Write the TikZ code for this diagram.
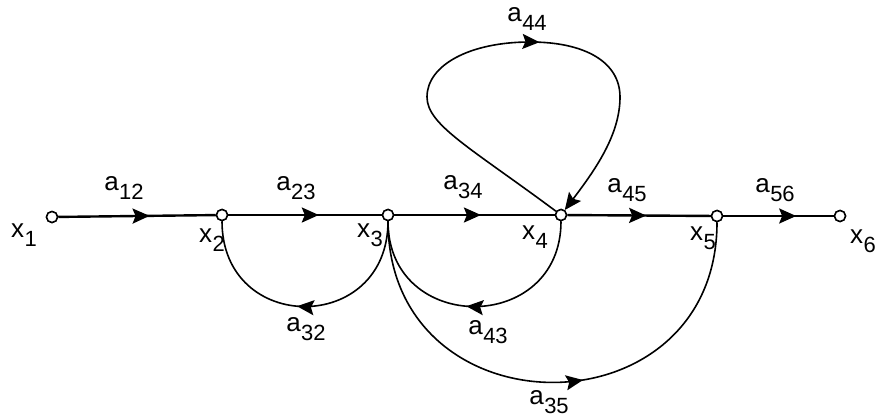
\documentclass[tikz,border=0pt]{standalone}
\usepackage{fontspec}
\setmainfont{Liberation Sans}
\usetikzlibrary{arrows.meta,decorations.markings}
\newcommand\lab[2]{#1\hspace{0.5pt}\raisebox{-9pt}{\fontsize{22}{22}\selectfont #2}}
\begin{document}
\begin{tikzpicture}[x=1pt,y=-1pt,
  vert/.style={circle,draw,fill=white,line width=1.5pt,minimum size=11pt,inner sep=0pt},
  txt/.style={inner sep=0pt,font=\fontsize{26}{26}\selectfont},
  edge/.style={line width=2.4pt},
  curv/.style={line width=1.6pt},
  arr/.style={decoration={markings,mark=at position #1 with {\arrow{Stealth[length=17pt,width=15pt,inset=3pt]}}},postaction={decorate}},
]
\useasboundingbox (0,0) rectangle (886,420);
% vertices
\node[vert] (x1) at (52,217) {};
\node[vert] (x2) at (222,215) {};
\node[vert] (x3) at (388,215) {};
\node[vert] (x4) at (561,215) {};
\node[vert] (x5) at (717,216) {};
\node[vert] (x6) at (840,216) {};
% straight branches
\draw[edge,arr=0.58] (x1) -- (x2);
\draw[edge,arr=0.59] (x2) -- (x3);
\draw[edge,arr=0.54] (x3) -- (x4);
\draw[edge,arr=0.55] (x4) -- (x5);
\draw[edge,arr=0.66] (x5) -- (x6);
% curved branches
\draw[curv,arr=0.53] (x3) .. controls (388,335) and (222,335) .. (x2);
\draw[curv,arr=0.53] (x4) .. controls (561,335) and (388,335) .. (x3);
\draw[curv,arr=0.56] (x3) .. controls (388,436) and (717,436) .. (x5);
% self loop
\draw[curv,arr=0.57,-{Stealth[length=17pt,width=15pt,inset=3pt]}] (x4) .. controls (471,148) and (427,125) .. (427,97)
  .. controls (427,65) and (470,42) .. (530,42)
  .. controls (585,42) and (620,62) .. (620,97)
  .. controls (620,135) and (595,170) .. (x4);
% redraw vertices on top
\node[vert] at (x1) {};
\node[vert] at (x2) {};
\node[vert] at (x3) {};
\node[vert] at (x4) {};
\node[vert] at (x5) {};
\node[vert] at (x6) {};
% vertex labels
\node[txt] (lx1) at (24,235) {\lab{x}{1}};
\node[txt] (lx2) at (212,240) {\lab{x}{2}};
\node[txt] (lx3) at (370,235) {\lab{x}{3}};
\node[txt] (lx4) at (535,237) {\lab{x}{4}};
\node[txt] (lx5) at (703,238) {\lab{x}{5}};
\node[txt] (lx6) at (863,241) {\lab{x}{6}};
% branch labels
\node[txt] (l12) at (124,188) {\lab{a}{12}};
\node[txt] (l23) at (296,188) {\lab{a}{23}};
\node[txt] (l34) at (463,187) {\lab{a}{34}};
\node[txt] (l45) at (627,190) {\lab{a}{45}};
\node[txt] (l56) at (775,190) {\lab{a}{56}};
\node[txt] (l44) at (527,19) {\lab{a}{44}};
\node[txt] (l32) at (306,329) {\lab{a}{32}};
\node[txt] (l43) at (488,332) {\lab{a}{43}};
\node[txt] (l35) at (549,402) {\lab{a}{35}};
\end{tikzpicture}
\end{document}
